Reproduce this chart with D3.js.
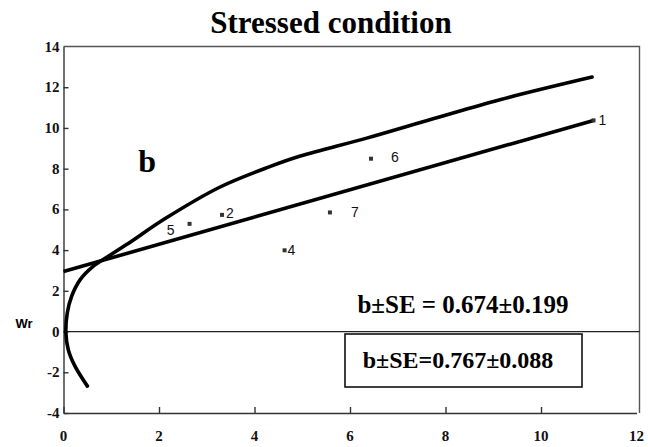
<!DOCTYPE html>
<html>
<head>
<meta charset="utf-8">
<script src="https://cdn.jsdelivr.net/npm/d3@7/dist/d3.min.js"></script>
<style>
  body { margin: 0; background: #fff; }
  svg { display: block; }
</style>
</head>
<body>
<div id="chart"></div>
<script>
// values
const xTicks = [0, 2, 4, 6, 8, 10, 12];
const yTicks = [-4, -2, 0, 2, 4, 6, 8, 10, 12, 14];

const pointIds = ["1", "2", "4", "5", "6", "7"];
const pointX = [11.1, 3.32, 4.63, 2.64, 6.44, 5.58];
const pointY = [10.37, 5.73, 3.99, 5.29, 8.49, 5.85];

// regression line Wr on Vr
const regX = [0, 11.1];
const regY = [2.95, 10.37];

// limiting parabola
const curveX = [0.50, 0.24, 0.10, 0.05, 0.08, 0.17, 0.35, 0.62, 0.94, 1.32, 2.13, 3.28, 4.32, 4.96, 6.35, 7.74, 9.14, 11.07];
const curveY = [-2.68, -1.70, -0.89, -0.07, 0.92, 1.73, 2.55, 3.20, 3.70, 4.27, 5.55, 7.10, 8.10, 8.62, 9.50, 10.45, 11.39, 12.50];

const eqTop = "b±SE = 0.674±0.199";
const eqBox = "b±SE=0.767±0.088";

let width = 648;
let height = 447;

let svg = d3.select("#chart")
  .append("svg")
  .attr("width", width)
  .attr("height", height);

let x = d3.scaleLinear().domain([0, 12]).range([63.5, 636.5]);
let y = d3.scaleLinear().domain([-4, 14]).range([413, 46.5]);

const serif = "'Liberation Serif', 'Times New Roman', serif";
const sans = "'Liberation Sans', Arial, sans-serif";

// title
svg.append("text")
  .attr("x", 331)
  .attr("y", 33)
  .attr("text-anchor", "middle")
  .attr("font-family", serif)
  .attr("font-weight", "bold")
  .attr("font-size", 31)
  .text("Stressed condition");

// frame (top and right)
svg.append("path")
  .attr("d", `M${x(0)},${y(14)}H${x(12) + 3}V${y(-4)}`)
  .attr("fill", "none")
  .attr("stroke", "#555")
  .attr("stroke-width", 1.4);

// axes, ticks pointing inward; labels drawn separately below
let xAxis = svg.append("g")
  .attr("transform", `translate(0,${y(-4)})`)
  .call(d3.axisBottom(x).tickValues(xTicks).tickFormat("")
    .tickSize(-6).tickSizeOuter(0));

let yAxis = svg.append("g")
  .attr("transform", `translate(${x(0)},0)`)
  .call(d3.axisLeft(y).tickValues(yTicks).tickFormat("")
    .tickSize(-5).tickSizeOuter(0));

[xAxis, yAxis].forEach(g => {
  g.selectAll("path, line").attr("stroke", "#333").attr("stroke-width", 1.4);
  g.selectAll(".tick text").remove();
});
xAxis.select(".tick:last-of-type line").remove();
yAxis.select(".tick:last-of-type line").remove();

svg.selectAll(".xlab")
  .data(xTicks)
  .enter()
  .append("text")
  .attr("class", "xlab")
  .attr("x", d => x(d))
  .attr("y", y(-4) + 28)
  .attr("text-anchor", "middle")
  .attr("font-family", serif)
  .attr("font-weight", "bold")
  .attr("font-size", 15)
  .attr("fill", "#111")
  .text(d => String(d));

svg.selectAll(".ylab")
  .data(yTicks)
  .enter()
  .append("text")
  .attr("class", "ylab")
  .attr("x", x(0) - 4)
  .attr("y", d => y(d) + 5)
  .attr("text-anchor", "end")
  .attr("font-family", serif)
  .attr("font-weight", "bold")
  .attr("font-size", 15)
  .attr("fill", "#111")
  .text(d => String(d));

// Wr = 0 line
svg.append("line")
  .attr("x1", x(0)).attr("x2", x(12) + 3)
  .attr("y1", y(0)).attr("y2", y(0))
  .attr("stroke", "#222")
  .attr("stroke-width", 1.3);

svg.append("text")
  .attr("x", 24)
  .attr("y", 328)
  .attr("text-anchor", "middle")
  .attr("font-family", sans)
  .attr("font-weight", "bold")
  .attr("font-size", 13)
  .text("Wr");

// parabola
let curveData = curveX.map((v, i) => [v, curveY[i]]);
svg.append("path")
  .datum(curveData)
  .attr("d", d3.line().x(d => x(d[0])).y(d => y(d[1])).curve(d3.curveCatmullRom.alpha(0.5)))
  .attr("fill", "none")
  .attr("stroke", "#000")
  .attr("stroke-width", 3.6)
  .attr("stroke-linecap", "round");

// regression line
svg.append("path")
  .datum(regX.map((v, i) => [v, regY[i]]))
  .attr("d", d3.line().x(d => x(d[0])).y(d => y(d[1])))
  .attr("fill", "none")
  .attr("stroke", "#000")
  .attr("stroke-width", 3.6);

// points + array numbers
const labelOffset = {
  "1": [5, 0, "start"], "2": [4, -2, "start"], "4": [3, 0, "start"],
  "5": [-15, 6, "end"], "6": [20, -2, "start"], "7": [21, 0, "start"]
};

let pts = svg.selectAll(".pt")
  .data(pointIds.map((id, i) => ({ id, vx: pointX[i], vy: pointY[i] })))
  .enter()
  .append("g")
  .attr("class", "pt");

pts.append("rect")
  .attr("x", d => x(d.vx) - 2)
  .attr("y", d => y(d.vy) - 2)
  .attr("width", 4)
  .attr("height", 4)
  .attr("fill", "#333");

pts.append("text")
  .attr("x", d => x(d.vx) + labelOffset[d.id][0])
  .attr("y", d => y(d.vy) + labelOffset[d.id][1] + 5)
  .attr("text-anchor", d => labelOffset[d.id][2])
  .attr("font-family", sans)
  .attr("font-size", 14)
  .attr("fill", "#111")
  .text(d => d.id);

// panel letter
svg.append("text")
  .attr("x", x(1.75))
  .attr("y", 172)
  .attr("text-anchor", "middle")
  .attr("font-family", serif)
  .attr("font-weight", "bold")
  .attr("font-size", 32)
  .text("b");

// b ± SE annotations
svg.append("text")
  .attr("x", 463)
  .attr("y", 313)
  .attr("text-anchor", "middle")
  .attr("font-family", serif)
  .attr("font-weight", "bold")
  .attr("font-size", 25)
  .text(eqTop);

svg.append("rect")
  .attr("x", 345)
  .attr("y", 334)
  .attr("width", 237)
  .attr("height", 53)
  .attr("fill", "#fff")
  .attr("stroke", "#111")
  .attr("stroke-width", 1.6);

svg.append("text")
  .attr("x", 458)
  .attr("y", 368)
  .attr("text-anchor", "middle")
  .attr("font-family", serif)
  .attr("font-weight", "bold")
  .attr("font-size", 24)
  .text(eqBox);
</script>
</body>
</html>
